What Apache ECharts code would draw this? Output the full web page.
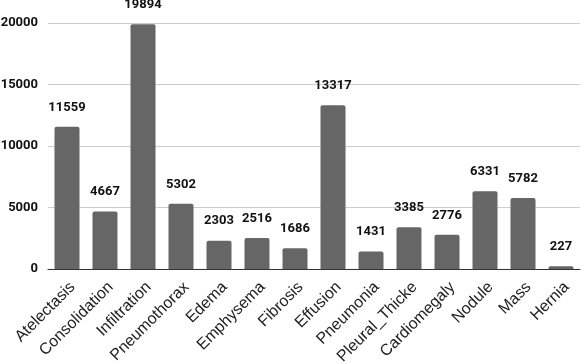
<!DOCTYPE html>
<html>
<head>
<meta charset="utf-8">
<script src="https://cdn.jsdelivr.net/npm/echarts@6/dist/echarts.min.js"></script>
<style>
  html, body { margin: 0; padding: 0; background: #fff; }
  #chart { width: 588px; height: 364px; }
</style>
</head>
<body>
<div id="chart"></div>
<script>
const categories = ['Atelectasis', 'Consolidation', 'Infiltration', 'Pneumothorax', 'Edema', 'Emphysema',
  'Fibrosis', 'Effusion', 'Pneumonia', 'Pleural_Thicke', 'Cardiomegaly', 'Nodule', 'Mass', 'Hernia']
const counts = [11559, 4667, 19894, 5302, 2303, 2516, 1686, 13317, 1431, 3385, 2776, 6331, 5782, 227]
const yTicks = [0, 5000, 10000, 15000, 20000]

const chart = echarts.init(document.getElementById('chart'))
chart.setOption({
  animation: false,
  textStyle: { fontFamily: 'Roboto' },
  grid: { left: 48, right: 8, top: 23, bottom: 95, outerBoundsMode: 'none' },
  xAxis: {
    type: 'category',
    data: categories,
    axisLine: { lineStyle: { color: '#333', width: 1 } },
    axisTick: { show: false },
    axisLabel: {
      rotate: 45, fontSize: 16, fontFamily: 'Liberation Sans', color: '#222',
      margin: 10, align: 'right', verticalAlign: 'top', interval: 0
    }
  },
  yAxis: {
    type: 'value',
    min: yTicks[0],
    max: yTicks[yTicks.length - 1],
    interval: 5000,
    axisLabel: { fontSize: 13, fontWeight: 'bold', color: '#111', margin: 10, formatter: v => String(v) },
    splitLine: { lineStyle: { color: '#ccc' } }
  },
  series: [{
    type: 'bar',
    data: counts,
    barWidth: 25,
    itemStyle: { color: '#666', borderRadius: [2, 2, 0, 0] },
    label: {
      show: true,
      position: 'top',
      distance: 13,
      fontSize: 13,
      fontWeight: 'bold',
      color: '#111'
    }
  }]
})
</script>
</body>
</html>
